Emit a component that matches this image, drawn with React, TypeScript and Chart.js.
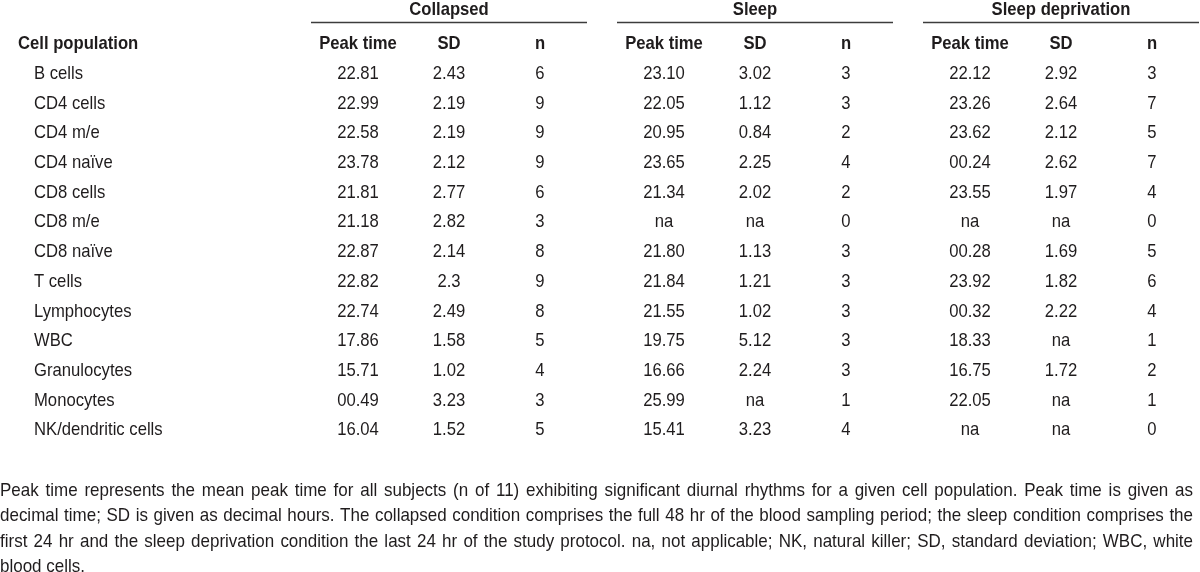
import React, { useEffect, useRef } from "react";
import { Chart, registerables } from "chart.js";

Chart.register(...registerables);

// ---------- data ----------
const conditions = ["Collapsed", "Sleep", "Sleep deprivation"];
const columnHeaders = ["Peak time", "SD", "n"];
const rowHeader = "Cell population";
const cellPopulations = [
  "B cells",
  "CD4 cells",
  "CD4 m/e",
  "CD4 naïve",
  "CD8 cells",
  "CD8 m/e",
  "CD8 naïve",
  "T cells",
  "Lymphocytes",
  "WBC",
  "Granulocytes",
  "Monocytes",
  "NK/dendritic cells",
];

const collapsedPeak = ["22.81", "22.99", "22.58", "23.78", "21.81", "21.18", "22.87", "22.82", "22.74", "17.86", "15.71", "00.49", "16.04"];
const collapsedSD = ["2.43", "2.19", "2.19", "2.12", "2.77", "2.82", "2.14", "2.3", "2.49", "1.58", "1.02", "3.23", "1.52"];
const collapsedN = ["6", "9", "9", "9", "6", "3", "8", "9", "8", "5", "4", "3", "5"];

const sleepPeak = ["23.10", "22.05", "20.95", "23.65", "21.34", "na", "21.80", "21.84", "21.55", "19.75", "16.66", "25.99", "15.41"];
const sleepSD = ["3.02", "1.12", "0.84", "2.25", "2.02", "na", "1.13", "1.21", "1.02", "5.12", "2.24", "na", "3.23"];
const sleepN = ["3", "3", "2", "4", "2", "0", "3", "3", "3", "3", "3", "1", "4"];

const deprivPeak = ["22.12", "23.26", "23.62", "00.24", "23.55", "na", "00.28", "23.92", "00.32", "18.33", "16.75", "22.05", "na"];
const deprivSD = ["2.92", "2.64", "2.12", "2.62", "1.97", "na", "1.69", "1.82", "2.22", "na", "1.72", "na", "na"];
const deprivN = ["3", "7", "5", "7", "4", "0", "5", "6", "4", "1", "2", "1", "0"];

const footnoteLines = [
  "Peak time represents the mean peak time for all subjects (n of 11) exhibiting significant diurnal rhythms for a given cell population. Peak time is given as",
  "decimal time; SD is given as decimal hours. The collapsed condition comprises the full 48 hr of the blood sampling period; the sleep condition comprises the",
  "first 24 hr and the sleep deprivation condition the last 24 hr of the study protocol. na, not applicable; NK, natural killer; SD, standard deviation; WBC, white",
  "blood cells.",
];

const columnValues = [
  [collapsedPeak, collapsedSD, collapsedN],
  [sleepPeak, sleepSD, sleepN],
  [deprivPeak, deprivSD, deprivN],
];

// ---------- layout (table coordinates in scale units) ----------
const W = 1200;
const H = 572;
const groupCenters = [449, 755, 1061];
const subColumnOffsets = [-91, 0, 91];
const ruleHalfWidth = 138;
const groupTitleY = 8.5;
const ruleY = 22.5;
const headerY = 42;
const firstRowY = 72.3;
const rowGap = 29.7;
const rowHeaderX = 18;
const rowLabelX = 34;
const footnoteX = 0;
const footnoteRight = 1193;
const footnoteY = 489;
const footnoteGap = 25.5;

const TEXT = "#1f1c1d";
const RULE = "#3c3c3c";
const FAMILY = '"Liberation Sans", Arial, sans-serif';
const FONT_PX = 18.5;
const SX = 0.9;

const rowY = (i: number) => firstRowY + rowGap * i;

function drawText(
  ctx: CanvasRenderingContext2D,
  text: string,
  x: number,
  yCenter: number,
  align: CanvasTextAlign,
  bold: boolean,
  sx: number
) {
  ctx.save();
  ctx.font = `${bold ? "bold " : ""}${FONT_PX}px ${FAMILY}`;
  ctx.fillStyle = TEXT;
  ctx.textBaseline = "alphabetic";
  ctx.textAlign = align;
  ctx.translate(x, yCenter + FONT_PX * 0.358);
  ctx.scale(sx, 1);
  ctx.fillText(text, 0, 0);
  ctx.restore();
}

const tablePlugin = {
  id: "tablePlugin",
  afterDraw(chart: any) {
    const ctx: CanvasRenderingContext2D = chart.ctx;
    const xs = chart.scales.x;
    const ys = chart.scales.y;

    // group titles + rules
    conditions.forEach((c, g) => {
      const cx = xs.getPixelForValue(groupCenters[g]);
      drawText(ctx, c, cx, ys.getPixelForValue(groupTitleY), "center", true, SX);
      ctx.save();
      ctx.strokeStyle = RULE;
      ctx.lineWidth = 1.3;
      ctx.beginPath();
      const yy = ys.getPixelForValue(ruleY);
      ctx.moveTo(xs.getPixelForValue(groupCenters[g] - ruleHalfWidth), yy);
      ctx.lineTo(xs.getPixelForValue(groupCenters[g] + ruleHalfWidth), yy);
      ctx.stroke();
      ctx.restore();
      columnHeaders.forEach((h, k) => {
        drawText(
          ctx,
          h,
          xs.getPixelForValue(groupCenters[g] + subColumnOffsets[k]),
          ys.getPixelForValue(headerY),
          "center",
          true,
          SX
        );
      });
    });
    drawText(ctx, rowHeader, xs.getPixelForValue(rowHeaderX), ys.getPixelForValue(headerY), "left", true, SX);

    // cells from dataset points
    chart.data.datasets.forEach((ds: any, di: number) => {
      const meta = chart.getDatasetMeta(di);
      meta.data.forEach((pt: any, i: number) => {
        drawText(ctx, ds.cellTexts[i], pt.x, pt.y, ds.cellAlign, false, SX);
      });
    });

    // footnote (justified)
    ctx.save();
    ctx.font = `${FONT_PX}px ${FAMILY}`;
    const left = xs.getPixelForValue(footnoteX);
    const right = xs.getPixelForValue(footnoteRight);
    const target = right - left;
    let maxNat = 0;
    footnoteLines.slice(0, -1).forEach((l) => {
      maxNat = Math.max(maxNat, ctx.measureText(l).width);
    });
    const sxF = Math.min(1, (target - 22) / maxNat);
    const spaceW = ctx.measureText(" ").width * sxF;
    footnoteLines.forEach((line, j) => {
      const y = ys.getPixelForValue(footnoteY + footnoteGap * j);
      const words = line.split(" ");
      const widths = words.map((w) => ctx.measureText(w).width * sxF);
      const total = widths.reduce((a, b) => a + b, 0);
      const last = j === footnoteLines.length - 1;
      const gap = last || words.length < 2 ? spaceW : (target - total) / (words.length - 1);
      let x = left;
      words.forEach((w, k) => {
        drawText(ctx, w, x, y, "left", false, sxF);
        x += widths[k] + gap;
      });
    });
    ctx.restore();
  },
};

export default function App() {
  const ref = useRef<HTMLCanvasElement | null>(null);

  useEffect(() => {
    document.body.style.margin = "0";
    document.body.style.background = "#ffffff";
    if (!ref.current) return;

    const datasets: any[] = [];
    datasets.push({
      label: rowHeader,
      data: cellPopulations.map((_, i) => ({ x: rowLabelX, y: rowY(i) })),
      cellTexts: cellPopulations,
      cellAlign: "left",
      pointRadius: 0,
      pointHoverRadius: 0,
      showLine: false,
    });
    conditions.forEach((c, g) => {
      columnHeaders.forEach((h, k) => {
        const vals = columnValues[g][k];
        datasets.push({
          label: `${c} ${h}`,
          data: vals.map((_, i) => ({ x: groupCenters[g] + subColumnOffsets[k], y: rowY(i) })),
          cellTexts: vals,
          cellAlign: "center",
          pointRadius: 0,
          pointHoverRadius: 0,
          showLine: false,
        });
      });
    });

    const chart = new Chart(ref.current, {
      type: "scatter",
      data: { datasets },
      options: {
        responsive: false,
        animation: false,
        devicePixelRatio: 1,
        layout: { padding: 0 },
        events: [],
        scales: {
          x: { type: "linear", min: 0, max: W, display: false },
          y: { type: "linear", min: 0, max: H, reverse: true, display: false },
        },
        plugins: { legend: { display: false }, tooltip: { enabled: false } },
      },
      plugins: [tablePlugin],
    } as any);
    return () => chart.destroy();
  }, []);

  return (
    <div style={{ width: W, height: H, background: "#fff" }}>
      <canvas ref={ref} width={W} height={H} style={{ display: "block" }} />
    </div>
  );
}
